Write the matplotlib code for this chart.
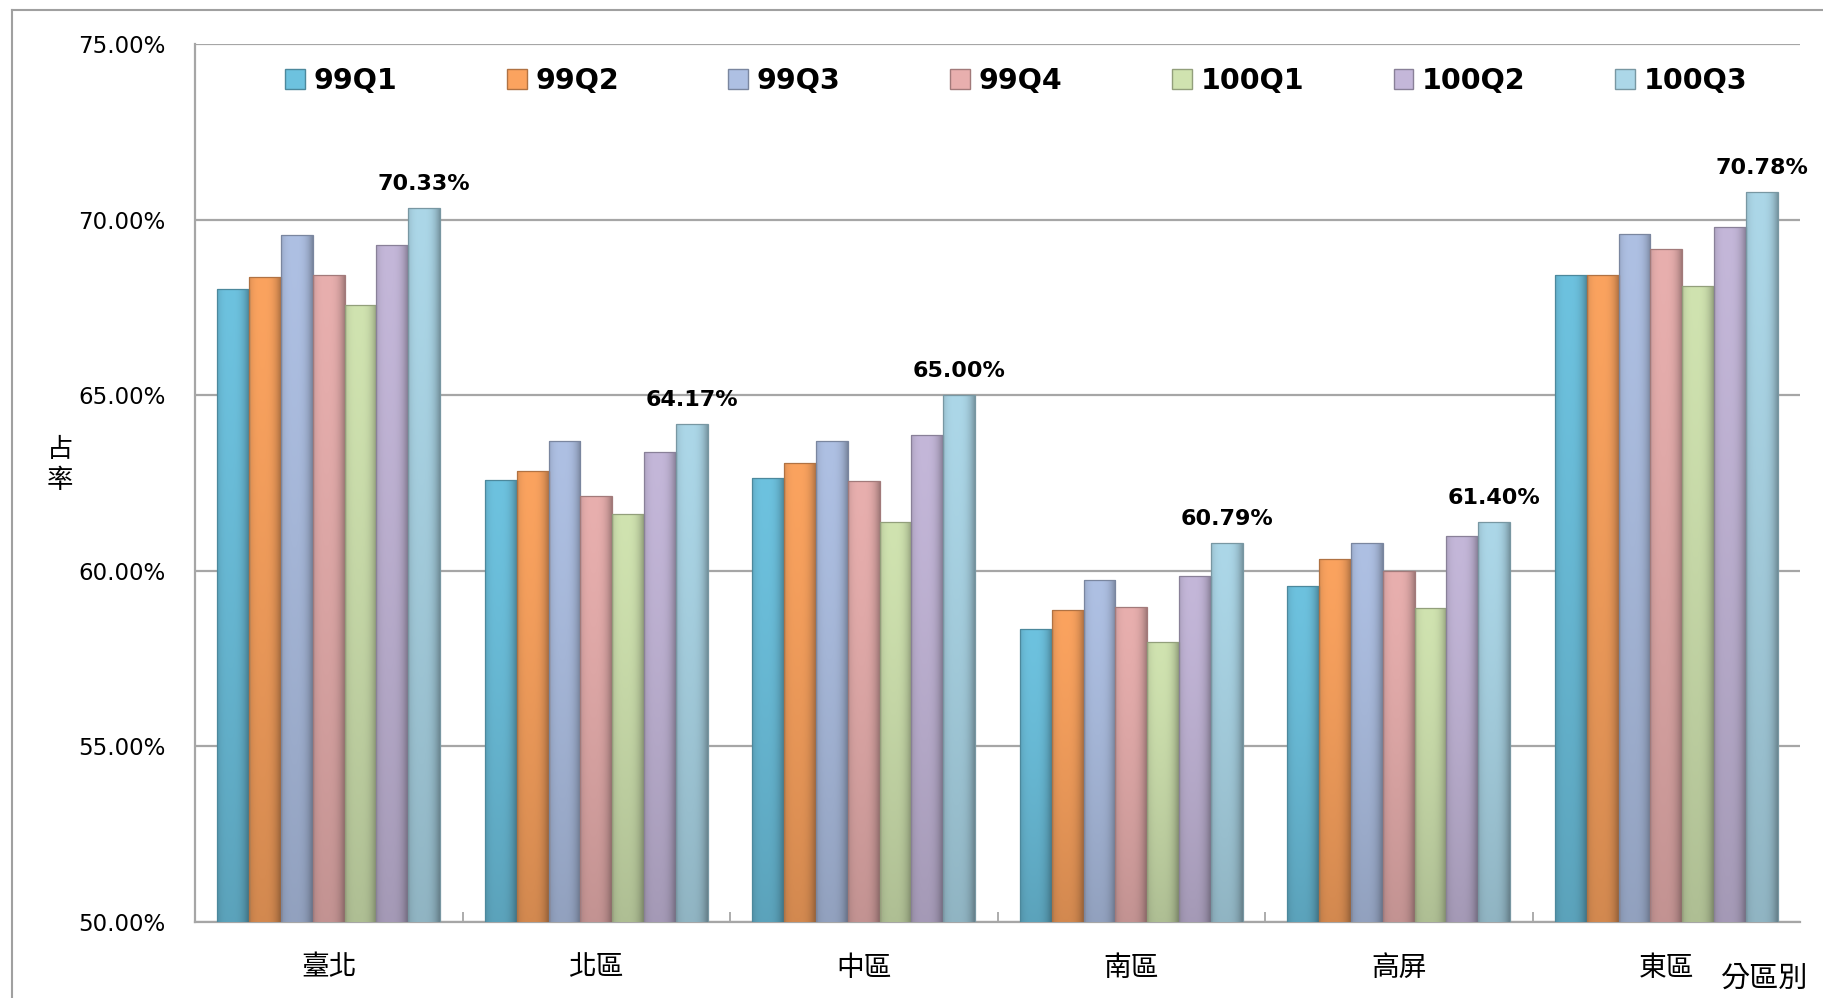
import matplotlib
matplotlib.use('Agg')
import matplotlib.pyplot as plt
import numpy as np
from matplotlib.lines import Line2D
from matplotlib.patches import Patch
import matplotlib.colors as mcolors

plt.rcParams['font.family'] = ['DejaVu Sans', 'Noto Sans CJK TC']

categories = ['臺北', '北區', '中區', '南區', '高屏', '東區']
series_names = ['99Q1', '99Q2', '99Q3', '99Q4', '100Q1', '100Q2', '100Q3']
v99q1 = [68.03, 62.58, 62.63, 58.33, 59.58, 68.43]
v99q2 = [68.36, 62.84, 63.06, 58.89, 60.34, 68.43]
v99q3 = [69.55, 63.69, 63.70, 59.75, 60.79, 69.60]
v99q4 = [68.43, 62.13, 62.57, 58.98, 59.99, 69.15]
v100q1 = [67.56, 61.63, 61.40, 57.97, 58.94, 68.11]
v100q2 = [69.28, 63.39, 63.86, 59.85, 61.00, 69.79]
v100q3 = [70.33, 64.17, 65.00, 60.79, 61.40, 70.78]
series_values = [v99q1, v99q2, v99q3, v99q4, v100q1, v100q2, v100q3]
yticks = [50, 55, 60, 65, 70, 75]

colors = ['#6DC2DF', '#FBA35F', '#AEC0E3', '#E8AFAE', '#D0E3B0', '#C4B7D9', '#ACD7E8']

W, H = 1823, 998
fig = plt.figure(figsize=(W / 100, H / 100), dpi=100)
ax = fig.add_axes([195 / W, 1 - 922 / H, (1800 - 195) / W, (922 - 44) / H])

x = np.arange(len(categories))
bw = 0.119
grid_c = '#a6a6a6'


def gradient(col, nx=40, ny=80):
    c = np.array(mcolors.to_rgb(col))
    u = np.linspace(0, 1, nx)
    v = np.linspace(0, 1, ny)
    hs = 1 - 0.30 * np.abs((u - 0.42) / 0.58) ** 3
    vs = 1 - 0.16 * v ** 1.3
    f = vs[:, None] * hs[None, :]
    img = c[None, None, :] * f[:, :, None]
    return np.clip(img, 0, 1)


for j, (name, vals, col) in enumerate(zip(series_names, series_values, colors)):
    dark = tuple(np.array(mcolors.to_rgb(col)) * 0.7)
    bars = ax.bar(x + (j - 3) * bw, vals, bw, facecolor='none',
                  edgecolor=dark, linewidth=0.9, zorder=4)
    img = gradient(col)
    for b in bars:
        x0, wb, h = b.get_x(), b.get_width(), b.get_height()
        im = ax.imshow(img, extent=(x0, x0 + wb, 50, h), aspect='auto',
                       interpolation='bilinear', zorder=3)
        im.set_clip_path(b)
    if j == len(series_names) - 1:
        for xi, v in zip(x + (j - 3) * bw, vals):
            ax.annotate(f'{v:.2f}%', (xi, v), xytext=(0, 13),
                        textcoords='offset points', ha='center', va='baseline',
                        fontsize=16, fontweight='bold', color='black', zorder=5)

ax.set_xlim(-0.5, len(categories) - 0.5)
ax.set_ylim(50, 75)
ax.set_yticks(yticks)
ax.set_yticklabels([f'{t:.2f}%' for t in yticks], fontsize=16.5)
ax.tick_params(axis='y', length=0, pad=21)
ax.yaxis.grid(True, color=grid_c, linewidth=1.6)
ax.set_axisbelow(True)

ax.set_xticks(x)
ax.set_xticklabels(categories, fontsize=20, family=['Noto Sans CJK TC'])
ax.tick_params(axis='x', length=0, pad=22)
ax.set_xticks(np.arange(0.5, len(categories) - 1, 1.0), minor=True)
ax.tick_params(axis='x', which='minor', direction='in', length=7, color=grid_c, width=1.3)

for s in ['top', 'right']:
    ax.spines[s].set_visible(False)
for s in ['left', 'bottom']:
    ax.spines[s].set_color(grid_c)
    ax.spines[s].set_linewidth(1.6)

# legend entries equally spaced
for i, (name, col) in enumerate(zip(series_names, colors)):
    dark = tuple(np.array(mcolors.to_rgb(col)) * 0.7)
    fig.legend(handles=[Patch(facecolor=col, edgecolor=dark)], labels=[name],
               loc='center left', bbox_to_anchor=((285 + i * 221.7) / W, 1 - 81 / H),
               frameon=False, prop={'size': 20.5, 'weight': 'bold'},
               handlelength=0.7, handleheight=0.7, handletextpad=0.3,
               borderpad=0, borderaxespad=0)

# axis titles
fig.text(60 / W, 1 - 449 / H, '占', ha='center', va='center', fontsize=19,
         family=['Noto Sans CJK TC'])
fig.text(60 / W, 1 - 481 / H, '率', ha='center', va='center', fontsize=19,
         family=['Noto Sans CJK TC'])
fig.text(1764 / W, 1 - 979 / H, '分區別', ha='center', va='center', fontsize=21,
         family=['Noto Sans CJK TC'])

# chart area border
fig.add_artist(Line2D([12 / W, 12 / W], [0, 1 - 10 / H], transform=fig.transFigure,
                      color='#a0a0a0', linewidth=1.5))
fig.add_artist(Line2D([12 / W, 1], [1 - 10 / H, 1 - 10 / H], transform=fig.transFigure,
                      color='#a0a0a0', linewidth=1.5))

fig.savefig('out.png', dpi=100)
